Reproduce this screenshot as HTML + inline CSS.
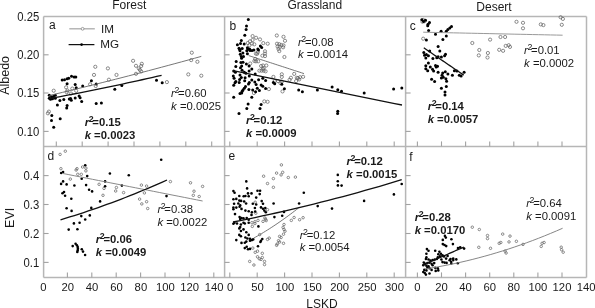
<!DOCTYPE html>
<html><head><meta charset="utf-8"><style>
html,body{margin:0;padding:0;background:#fff;}
svg{display:block;will-change:transform;filter:blur(0.3px);}
text{font-family:"Liberation Sans",sans-serif;fill:#1a1a1a;}
</style></head><body>
<svg width="595" height="308" viewBox="0 0 595 308">
<rect width="595" height="308" fill="#fff"/>
<line x1="43.6" y1="16.4" x2="586.5" y2="16.4" stroke="#b6b6b6" stroke-width="1.5"/><line x1="43.6" y1="277.4" x2="586.5" y2="277.4" stroke="#b6b6b6" stroke-width="1.5"/><line x1="43.6" y1="146.4" x2="586.5" y2="146.4" stroke="#b6b6b6" stroke-width="1.5"/><line x1="43.6" y1="16.4" x2="43.6" y2="277.4" stroke="#b6b6b6" stroke-width="1.5"/><line x1="224.6" y1="16.4" x2="224.6" y2="277.4" stroke="#b6b6b6" stroke-width="1.5"/><line x1="405.6" y1="16.4" x2="405.6" y2="277.4" stroke="#b6b6b6" stroke-width="1.5"/><line x1="586.5" y1="16.4" x2="586.5" y2="277.4" stroke="#b6b6b6" stroke-width="1.5"/><line x1="43.6" y1="54.8" x2="48.6" y2="54.8" stroke="#a2a2a2" stroke-width="1.1"/><line x1="43.6" y1="93.0" x2="48.6" y2="93.0" stroke="#a2a2a2" stroke-width="1.1"/><line x1="43.6" y1="131.4" x2="48.6" y2="131.4" stroke="#a2a2a2" stroke-width="1.1"/><line x1="43.6" y1="175.6" x2="48.6" y2="175.6" stroke="#a2a2a2" stroke-width="1.1"/><line x1="43.6" y1="204.5" x2="48.6" y2="204.5" stroke="#a2a2a2" stroke-width="1.1"/><line x1="43.6" y1="233.5" x2="48.6" y2="233.5" stroke="#a2a2a2" stroke-width="1.1"/><line x1="43.6" y1="262.4" x2="48.6" y2="262.4" stroke="#a2a2a2" stroke-width="1.1"/><line x1="224.6" y1="54.8" x2="229.6" y2="54.8" stroke="#a2a2a2" stroke-width="1.1"/><line x1="224.6" y1="93.0" x2="229.6" y2="93.0" stroke="#a2a2a2" stroke-width="1.1"/><line x1="224.6" y1="131.4" x2="229.6" y2="131.4" stroke="#a2a2a2" stroke-width="1.1"/><line x1="224.6" y1="175.6" x2="229.6" y2="175.6" stroke="#a2a2a2" stroke-width="1.1"/><line x1="224.6" y1="204.5" x2="229.6" y2="204.5" stroke="#a2a2a2" stroke-width="1.1"/><line x1="224.6" y1="233.5" x2="229.6" y2="233.5" stroke="#a2a2a2" stroke-width="1.1"/><line x1="224.6" y1="262.4" x2="229.6" y2="262.4" stroke="#a2a2a2" stroke-width="1.1"/><line x1="405.6" y1="54.8" x2="410.6" y2="54.8" stroke="#a2a2a2" stroke-width="1.1"/><line x1="405.6" y1="93.0" x2="410.6" y2="93.0" stroke="#a2a2a2" stroke-width="1.1"/><line x1="405.6" y1="131.4" x2="410.6" y2="131.4" stroke="#a2a2a2" stroke-width="1.1"/><line x1="405.6" y1="175.6" x2="410.6" y2="175.6" stroke="#a2a2a2" stroke-width="1.1"/><line x1="405.6" y1="204.5" x2="410.6" y2="204.5" stroke="#a2a2a2" stroke-width="1.1"/><line x1="405.6" y1="233.5" x2="410.6" y2="233.5" stroke="#a2a2a2" stroke-width="1.1"/><line x1="405.6" y1="262.4" x2="410.6" y2="262.4" stroke="#a2a2a2" stroke-width="1.1"/><line x1="56.3" y1="146.4" x2="56.3" y2="141.4" stroke="#a2a2a2" stroke-width="1.1"/><line x1="229.8" y1="146.4" x2="229.8" y2="141.4" stroke="#a2a2a2" stroke-width="1.1"/><line x1="417.4" y1="146.4" x2="417.4" y2="141.4" stroke="#a2a2a2" stroke-width="1.1"/><line x1="82.19999999999999" y1="146.4" x2="82.19999999999999" y2="141.4" stroke="#a2a2a2" stroke-width="1.1"/><line x1="257.2" y1="146.4" x2="257.2" y2="141.4" stroke="#a2a2a2" stroke-width="1.1"/><line x1="441.5" y1="146.4" x2="441.5" y2="141.4" stroke="#a2a2a2" stroke-width="1.1"/><line x1="108.1" y1="146.4" x2="108.1" y2="141.4" stroke="#a2a2a2" stroke-width="1.1"/><line x1="284.6" y1="146.4" x2="284.6" y2="141.4" stroke="#a2a2a2" stroke-width="1.1"/><line x1="465.59999999999997" y1="146.4" x2="465.59999999999997" y2="141.4" stroke="#a2a2a2" stroke-width="1.1"/><line x1="134.0" y1="146.4" x2="134.0" y2="141.4" stroke="#a2a2a2" stroke-width="1.1"/><line x1="312.0" y1="146.4" x2="312.0" y2="141.4" stroke="#a2a2a2" stroke-width="1.1"/><line x1="489.7" y1="146.4" x2="489.7" y2="141.4" stroke="#a2a2a2" stroke-width="1.1"/><line x1="159.89999999999998" y1="146.4" x2="159.89999999999998" y2="141.4" stroke="#a2a2a2" stroke-width="1.1"/><line x1="339.4" y1="146.4" x2="339.4" y2="141.4" stroke="#a2a2a2" stroke-width="1.1"/><line x1="513.8" y1="146.4" x2="513.8" y2="141.4" stroke="#a2a2a2" stroke-width="1.1"/><line x1="185.8" y1="146.4" x2="185.8" y2="141.4" stroke="#a2a2a2" stroke-width="1.1"/><line x1="366.8" y1="146.4" x2="366.8" y2="141.4" stroke="#a2a2a2" stroke-width="1.1"/><line x1="537.9" y1="146.4" x2="537.9" y2="141.4" stroke="#a2a2a2" stroke-width="1.1"/><line x1="211.7" y1="146.4" x2="211.7" y2="141.4" stroke="#a2a2a2" stroke-width="1.1"/><line x1="394.2" y1="146.4" x2="394.2" y2="141.4" stroke="#a2a2a2" stroke-width="1.1"/><line x1="562.0" y1="146.4" x2="562.0" y2="141.4" stroke="#a2a2a2" stroke-width="1.1"/><line x1="67.4" y1="277.4" x2="67.4" y2="272.4" stroke="#a2a2a2" stroke-width="1.1"/><line x1="91.8" y1="277.4" x2="91.8" y2="272.4" stroke="#a2a2a2" stroke-width="1.1"/><line x1="116.19999999999999" y1="277.4" x2="116.19999999999999" y2="272.4" stroke="#a2a2a2" stroke-width="1.1"/><line x1="140.6" y1="277.4" x2="140.6" y2="272.4" stroke="#a2a2a2" stroke-width="1.1"/><line x1="165.0" y1="277.4" x2="165.0" y2="272.4" stroke="#a2a2a2" stroke-width="1.1"/><line x1="189.39999999999998" y1="277.4" x2="189.39999999999998" y2="272.4" stroke="#a2a2a2" stroke-width="1.1"/><line x1="213.79999999999998" y1="277.4" x2="213.79999999999998" y2="272.4" stroke="#a2a2a2" stroke-width="1.1"/><line x1="229.8" y1="277.4" x2="229.8" y2="272.4" stroke="#a2a2a2" stroke-width="1.1"/><line x1="417.4" y1="277.4" x2="417.4" y2="272.4" stroke="#a2a2a2" stroke-width="1.1"/><line x1="257.2" y1="277.4" x2="257.2" y2="272.4" stroke="#a2a2a2" stroke-width="1.1"/><line x1="441.5" y1="277.4" x2="441.5" y2="272.4" stroke="#a2a2a2" stroke-width="1.1"/><line x1="284.6" y1="277.4" x2="284.6" y2="272.4" stroke="#a2a2a2" stroke-width="1.1"/><line x1="465.59999999999997" y1="277.4" x2="465.59999999999997" y2="272.4" stroke="#a2a2a2" stroke-width="1.1"/><line x1="312.0" y1="277.4" x2="312.0" y2="272.4" stroke="#a2a2a2" stroke-width="1.1"/><line x1="489.7" y1="277.4" x2="489.7" y2="272.4" stroke="#a2a2a2" stroke-width="1.1"/><line x1="339.4" y1="277.4" x2="339.4" y2="272.4" stroke="#a2a2a2" stroke-width="1.1"/><line x1="513.8" y1="277.4" x2="513.8" y2="272.4" stroke="#a2a2a2" stroke-width="1.1"/><line x1="366.8" y1="277.4" x2="366.8" y2="272.4" stroke="#a2a2a2" stroke-width="1.1"/><line x1="537.9" y1="277.4" x2="537.9" y2="272.4" stroke="#a2a2a2" stroke-width="1.1"/><line x1="394.2" y1="277.4" x2="394.2" y2="272.4" stroke="#a2a2a2" stroke-width="1.1"/><line x1="562.0" y1="277.4" x2="562.0" y2="272.4" stroke="#a2a2a2" stroke-width="1.1"/><line x1="69.3" y1="28.8" x2="94.8" y2="28.8" stroke="#aaaaaa" stroke-width="1.3"/><line x1="68.6" y1="44.6" x2="94.4" y2="44.6" stroke="#111" stroke-width="1.25"/>
<circle cx="95.3" cy="66.8" r="1.6" fill="none" stroke="#666" stroke-width="0.75"/><circle cx="107.9" cy="68.4" r="1.6" fill="none" stroke="#666" stroke-width="0.75"/><circle cx="94.0" cy="74.9" r="1.6" fill="none" stroke="#666" stroke-width="0.75"/><circle cx="116.5" cy="74.9" r="1.6" fill="none" stroke="#666" stroke-width="0.75"/><circle cx="108.9" cy="79.7" r="1.6" fill="none" stroke="#666" stroke-width="0.75"/><circle cx="90.1" cy="84.3" r="1.6" fill="none" stroke="#666" stroke-width="0.75"/><circle cx="95.7" cy="86.0" r="1.6" fill="none" stroke="#666" stroke-width="0.75"/><circle cx="53.7" cy="90.7" r="1.6" fill="none" stroke="#666" stroke-width="0.75"/><circle cx="66.1" cy="87.3" r="1.6" fill="none" stroke="#666" stroke-width="0.75"/><circle cx="72.3" cy="88.6" r="1.6" fill="none" stroke="#666" stroke-width="0.75"/><circle cx="67.4" cy="90.5" r="1.6" fill="none" stroke="#666" stroke-width="0.75"/><circle cx="76.2" cy="90.8" r="1.6" fill="none" stroke="#666" stroke-width="0.75"/><circle cx="66.7" cy="92.2" r="1.6" fill="none" stroke="#666" stroke-width="0.75"/><circle cx="71.0" cy="93.5" r="1.6" fill="none" stroke="#666" stroke-width="0.75"/><circle cx="48.9" cy="111.6" r="1.6" fill="none" stroke="#666" stroke-width="0.75"/><circle cx="47.9" cy="113.3" r="1.6" fill="none" stroke="#666" stroke-width="0.75"/><circle cx="133.1" cy="60.8" r="1.6" fill="none" stroke="#666" stroke-width="0.75"/><circle cx="136" cy="65.8" r="1.6" fill="none" stroke="#666" stroke-width="0.75"/><circle cx="141.8" cy="63.8" r="1.6" fill="none" stroke="#666" stroke-width="0.75"/><circle cx="141.2" cy="66" r="1.6" fill="none" stroke="#666" stroke-width="0.75"/><circle cx="138.8" cy="68.4" r="1.6" fill="none" stroke="#666" stroke-width="0.75"/><circle cx="139.9" cy="69.9" r="1.6" fill="none" stroke="#666" stroke-width="0.75"/><circle cx="141.2" cy="71.4" r="1.6" fill="none" stroke="#666" stroke-width="0.75"/><circle cx="136" cy="73.8" r="1.6" fill="none" stroke="#666" stroke-width="0.75"/><circle cx="166.9" cy="82.1" r="1.6" fill="none" stroke="#666" stroke-width="0.75"/><circle cx="191.8" cy="52.7" r="1.6" fill="none" stroke="#666" stroke-width="0.75"/><circle cx="191.2" cy="60.1" r="1.6" fill="none" stroke="#666" stroke-width="0.75"/><circle cx="197.4" cy="61.8" r="1.6" fill="none" stroke="#666" stroke-width="0.75"/><circle cx="188.3" cy="74.4" r="1.6" fill="none" stroke="#666" stroke-width="0.75"/><circle cx="201.3" cy="75.7" r="1.6" fill="none" stroke="#666" stroke-width="0.75"/><circle cx="252.6" cy="36.1" r="1.6" fill="none" stroke="#666" stroke-width="0.75"/><circle cx="256.1" cy="37.8" r="1.6" fill="none" stroke="#666" stroke-width="0.75"/><circle cx="260" cy="39.4" r="1.6" fill="none" stroke="#666" stroke-width="0.75"/><circle cx="250" cy="41.3" r="1.6" fill="none" stroke="#666" stroke-width="0.75"/><circle cx="252.6" cy="40" r="1.6" fill="none" stroke="#666" stroke-width="0.75"/><circle cx="247.8" cy="43" r="1.6" fill="none" stroke="#666" stroke-width="0.75"/><circle cx="252" cy="43.5" r="1.6" fill="none" stroke="#666" stroke-width="0.75"/><circle cx="254.3" cy="44.3" r="1.6" fill="none" stroke="#666" stroke-width="0.75"/><circle cx="249.4" cy="45.2" r="1.6" fill="none" stroke="#666" stroke-width="0.75"/><circle cx="257.8" cy="52.1" r="1.6" fill="none" stroke="#666" stroke-width="0.75"/><circle cx="265" cy="51.3" r="1.6" fill="none" stroke="#666" stroke-width="0.75"/><circle cx="255.9" cy="53.7" r="1.6" fill="none" stroke="#666" stroke-width="0.75"/><circle cx="276.8" cy="35.5" r="1.6" fill="none" stroke="#666" stroke-width="0.75"/><circle cx="283.5" cy="36.8" r="1.6" fill="none" stroke="#666" stroke-width="0.75"/><circle cx="285" cy="40.8" r="1.6" fill="none" stroke="#666" stroke-width="0.75"/><circle cx="263.3" cy="43.1" r="1.6" fill="none" stroke="#666" stroke-width="0.75"/><circle cx="267.7" cy="43.7" r="1.6" fill="none" stroke="#666" stroke-width="0.75"/><circle cx="277" cy="43.7" r="1.6" fill="none" stroke="#666" stroke-width="0.75"/><circle cx="279.3" cy="44.2" r="1.6" fill="none" stroke="#666" stroke-width="0.75"/><circle cx="281.4" cy="45" r="1.6" fill="none" stroke="#666" stroke-width="0.75"/><circle cx="283.5" cy="45.4" r="1.6" fill="none" stroke="#666" stroke-width="0.75"/><circle cx="277.6" cy="46.5" r="1.6" fill="none" stroke="#666" stroke-width="0.75"/><circle cx="279.7" cy="46.9" r="1.6" fill="none" stroke="#666" stroke-width="0.75"/><circle cx="283.1" cy="47.3" r="1.6" fill="none" stroke="#666" stroke-width="0.75"/><circle cx="278.5" cy="49" r="1.6" fill="none" stroke="#666" stroke-width="0.75"/><circle cx="279.3" cy="51.1" r="1.6" fill="none" stroke="#666" stroke-width="0.75"/><circle cx="265" cy="53.6" r="1.6" fill="none" stroke="#666" stroke-width="0.75"/><circle cx="257.2" cy="53.8" r="1.6" fill="none" stroke="#666" stroke-width="0.75"/><circle cx="262.4" cy="55.7" r="1.6" fill="none" stroke="#666" stroke-width="0.75"/><circle cx="265" cy="56.1" r="1.6" fill="none" stroke="#666" stroke-width="0.75"/><circle cx="284.4" cy="57" r="1.6" fill="none" stroke="#666" stroke-width="0.75"/><circle cx="255.2" cy="59" r="1.6" fill="none" stroke="#666" stroke-width="0.75"/><circle cx="255.9" cy="61.3" r="1.6" fill="none" stroke="#666" stroke-width="0.75"/><circle cx="258.2" cy="61.3" r="1.6" fill="none" stroke="#666" stroke-width="0.75"/><circle cx="250.2" cy="63.5" r="1.6" fill="none" stroke="#666" stroke-width="0.75"/><circle cx="254.4" cy="61" r="1.6" fill="none" stroke="#666" stroke-width="0.75"/><circle cx="261.1" cy="66" r="1.6" fill="none" stroke="#666" stroke-width="0.75"/><circle cx="259.4" cy="70.7" r="1.6" fill="none" stroke="#666" stroke-width="0.75"/><circle cx="261.6" cy="70.7" r="1.6" fill="none" stroke="#666" stroke-width="0.75"/><circle cx="262.8" cy="69" r="1.6" fill="none" stroke="#666" stroke-width="0.75"/><circle cx="263" cy="65.5" r="1.6" fill="none" stroke="#666" stroke-width="0.75"/><circle cx="266.3" cy="65.5" r="1.6" fill="none" stroke="#666" stroke-width="0.75"/><circle cx="263.7" cy="68.1" r="1.6" fill="none" stroke="#666" stroke-width="0.75"/><circle cx="263.7" cy="70.7" r="1.6" fill="none" stroke="#666" stroke-width="0.75"/><circle cx="265.6" cy="71.3" r="1.6" fill="none" stroke="#666" stroke-width="0.75"/><circle cx="273.4" cy="76.9" r="1.6" fill="none" stroke="#666" stroke-width="0.75"/><circle cx="281.8" cy="74.3" r="1.6" fill="none" stroke="#666" stroke-width="0.75"/><circle cx="281.8" cy="76.9" r="1.6" fill="none" stroke="#666" stroke-width="0.75"/><circle cx="290.9" cy="77.8" r="1.6" fill="none" stroke="#666" stroke-width="0.75"/><circle cx="294.2" cy="73.9" r="1.6" fill="none" stroke="#666" stroke-width="0.75"/><circle cx="296.8" cy="77.8" r="1.6" fill="none" stroke="#666" stroke-width="0.75"/><circle cx="300" cy="77.2" r="1.6" fill="none" stroke="#666" stroke-width="0.75"/><circle cx="296.1" cy="81.1" r="1.6" fill="none" stroke="#666" stroke-width="0.75"/><circle cx="289.6" cy="79.8" r="1.6" fill="none" stroke="#666" stroke-width="0.75"/><circle cx="274.7" cy="81.1" r="1.6" fill="none" stroke="#666" stroke-width="0.75"/><circle cx="278" cy="81.1" r="1.6" fill="none" stroke="#666" stroke-width="0.75"/><circle cx="281.8" cy="81.7" r="1.6" fill="none" stroke="#666" stroke-width="0.75"/><circle cx="253.9" cy="93" r="1.6" fill="none" stroke="#666" stroke-width="0.75"/><circle cx="268.9" cy="89.1" r="1.6" fill="none" stroke="#666" stroke-width="0.75"/><circle cx="282.5" cy="91.4" r="1.6" fill="none" stroke="#666" stroke-width="0.75"/><circle cx="280.5" cy="83.2" r="1.6" fill="none" stroke="#666" stroke-width="0.75"/><circle cx="264.3" cy="101.4" r="1.6" fill="none" stroke="#666" stroke-width="0.75"/><circle cx="267.6" cy="101.8" r="1.6" fill="none" stroke="#666" stroke-width="0.75"/><circle cx="298" cy="78.1" r="1.6" fill="none" stroke="#666" stroke-width="0.75"/><circle cx="303.1" cy="76.8" r="1.6" fill="none" stroke="#666" stroke-width="0.75"/><circle cx="299.2" cy="79.4" r="1.6" fill="none" stroke="#666" stroke-width="0.75"/><circle cx="423.2" cy="19.9" r="1.6" fill="none" stroke="#666" stroke-width="0.75"/><circle cx="422.5" cy="21.8" r="1.6" fill="none" stroke="#666" stroke-width="0.75"/><circle cx="424.5" cy="21.2" r="1.6" fill="none" stroke="#666" stroke-width="0.75"/><circle cx="423.2" cy="38.7" r="1.6" fill="none" stroke="#666" stroke-width="0.75"/><circle cx="472.3" cy="43" r="1.6" fill="none" stroke="#666" stroke-width="0.75"/><circle cx="479.3" cy="50" r="1.6" fill="none" stroke="#666" stroke-width="0.75"/><circle cx="478.8" cy="55.4" r="1.6" fill="none" stroke="#666" stroke-width="0.75"/><circle cx="516.5" cy="21.8" r="1.6" fill="none" stroke="#666" stroke-width="0.75"/><circle cx="523" cy="22.8" r="1.6" fill="none" stroke="#666" stroke-width="0.75"/><circle cx="523" cy="28.3" r="1.6" fill="none" stroke="#666" stroke-width="0.75"/><circle cx="540.8" cy="24.4" r="1.6" fill="none" stroke="#666" stroke-width="0.75"/><circle cx="543.4" cy="25.1" r="1.6" fill="none" stroke="#666" stroke-width="0.75"/><circle cx="490.1" cy="39.6" r="1.6" fill="none" stroke="#666" stroke-width="0.75"/><circle cx="500.5" cy="37" r="1.6" fill="none" stroke="#666" stroke-width="0.75"/><circle cx="505.1" cy="37" r="1.6" fill="none" stroke="#666" stroke-width="0.75"/><circle cx="505.7" cy="45.9" r="1.6" fill="none" stroke="#666" stroke-width="0.75"/><circle cx="508.7" cy="45.2" r="1.6" fill="none" stroke="#666" stroke-width="0.75"/><circle cx="510" cy="46.9" r="1.6" fill="none" stroke="#666" stroke-width="0.75"/><circle cx="499.2" cy="49.8" r="1.6" fill="none" stroke="#666" stroke-width="0.75"/><circle cx="503.1" cy="50.8" r="1.6" fill="none" stroke="#666" stroke-width="0.75"/><circle cx="487.9" cy="53" r="1.6" fill="none" stroke="#666" stroke-width="0.75"/><circle cx="487.5" cy="57.5" r="1.6" fill="none" stroke="#666" stroke-width="0.75"/><circle cx="560.6" cy="17.2" r="1.6" fill="none" stroke="#666" stroke-width="0.75"/><circle cx="562.9" cy="18.9" r="1.6" fill="none" stroke="#666" stroke-width="0.75"/><circle cx="561.8" cy="24.8" r="1.6" fill="none" stroke="#666" stroke-width="0.75"/><circle cx="60.1" cy="154.4" r="1.25" fill="none" stroke="#666" stroke-width="0.75"/><circle cx="65.3" cy="151.2" r="1.25" fill="none" stroke="#666" stroke-width="0.75"/><circle cx="60.9" cy="168.7" r="1.25" fill="none" stroke="#666" stroke-width="0.75"/><circle cx="77" cy="168.7" r="1.25" fill="none" stroke="#666" stroke-width="0.75"/><circle cx="76.1" cy="170" r="1.25" fill="none" stroke="#666" stroke-width="0.75"/><circle cx="82.6" cy="167" r="1.25" fill="none" stroke="#666" stroke-width="0.75"/><circle cx="85.9" cy="168.1" r="1.25" fill="none" stroke="#666" stroke-width="0.75"/><circle cx="85.9" cy="170.9" r="1.25" fill="none" stroke="#666" stroke-width="0.75"/><circle cx="77.8" cy="174.3" r="1.25" fill="none" stroke="#666" stroke-width="0.75"/><circle cx="81.3" cy="174.3" r="1.25" fill="none" stroke="#666" stroke-width="0.75"/><circle cx="70.3" cy="179.1" r="1.25" fill="none" stroke="#666" stroke-width="0.75"/><circle cx="99.1" cy="184.3" r="1.25" fill="none" stroke="#666" stroke-width="0.75"/><circle cx="104" cy="188.4" r="1.25" fill="none" stroke="#666" stroke-width="0.75"/><circle cx="116.4" cy="187.5" r="1.25" fill="none" stroke="#666" stroke-width="0.75"/><circle cx="115.7" cy="191" r="1.25" fill="none" stroke="#666" stroke-width="0.75"/><circle cx="103" cy="195.3" r="1.25" fill="none" stroke="#666" stroke-width="0.75"/><circle cx="123.6" cy="192.6" r="1.25" fill="none" stroke="#666" stroke-width="0.75"/><circle cx="141.4" cy="185.1" r="1.25" fill="none" stroke="#666" stroke-width="0.75"/><circle cx="146.6" cy="186.1" r="1.25" fill="none" stroke="#666" stroke-width="0.75"/><circle cx="144.4" cy="192.9" r="1.25" fill="none" stroke="#666" stroke-width="0.75"/><circle cx="139.6" cy="199.1" r="1.25" fill="none" stroke="#666" stroke-width="0.75"/><circle cx="146.6" cy="201.7" r="1.25" fill="none" stroke="#666" stroke-width="0.75"/><circle cx="141.8" cy="203.9" r="1.25" fill="none" stroke="#666" stroke-width="0.75"/><circle cx="147.7" cy="208.5" r="1.25" fill="none" stroke="#666" stroke-width="0.75"/><circle cx="170.4" cy="181.6" r="1.25" fill="none" stroke="#666" stroke-width="0.75"/><circle cx="190.5" cy="182.8" r="1.25" fill="none" stroke="#666" stroke-width="0.75"/><circle cx="202.6" cy="186.4" r="1.25" fill="none" stroke="#666" stroke-width="0.75"/><circle cx="194" cy="191.2" r="1.25" fill="none" stroke="#666" stroke-width="0.75"/><circle cx="193.3" cy="195.3" r="1.25" fill="none" stroke="#666" stroke-width="0.75"/><circle cx="199.2" cy="196.5" r="1.25" fill="none" stroke="#666" stroke-width="0.75"/><circle cx="281.4" cy="164.9" r="1.25" fill="none" stroke="#666" stroke-width="0.75"/><circle cx="276.6" cy="173.1" r="1.25" fill="none" stroke="#666" stroke-width="0.75"/><circle cx="282.7" cy="172.3" r="1.25" fill="none" stroke="#666" stroke-width="0.75"/><circle cx="281.1" cy="174.9" r="1.25" fill="none" stroke="#666" stroke-width="0.75"/><circle cx="263.6" cy="176.2" r="1.25" fill="none" stroke="#666" stroke-width="0.75"/><circle cx="273.4" cy="178.6" r="1.25" fill="none" stroke="#666" stroke-width="0.75"/><circle cx="288.3" cy="177.5" r="1.25" fill="none" stroke="#666" stroke-width="0.75"/><circle cx="295.4" cy="177.1" r="1.25" fill="none" stroke="#666" stroke-width="0.75"/><circle cx="267.5" cy="183.5" r="1.25" fill="none" stroke="#666" stroke-width="0.75"/><circle cx="273.4" cy="187.3" r="1.25" fill="none" stroke="#666" stroke-width="0.75"/><circle cx="255.2" cy="202.2" r="1.25" fill="none" stroke="#666" stroke-width="0.75"/><circle cx="267.5" cy="209.7" r="1.25" fill="none" stroke="#666" stroke-width="0.75"/><circle cx="255.8" cy="213.2" r="1.25" fill="none" stroke="#666" stroke-width="0.75"/><circle cx="264.9" cy="218" r="1.25" fill="none" stroke="#666" stroke-width="0.75"/><circle cx="263" cy="221.4" r="1.25" fill="none" stroke="#666" stroke-width="0.75"/><circle cx="266.2" cy="220.6" r="1.25" fill="none" stroke="#666" stroke-width="0.75"/><circle cx="258" cy="220.4" r="1.25" fill="none" stroke="#666" stroke-width="0.75"/><circle cx="254.9" cy="221.7" r="1.25" fill="none" stroke="#666" stroke-width="0.75"/><circle cx="251.9" cy="222.7" r="1.25" fill="none" stroke="#666" stroke-width="0.75"/><circle cx="291.3" cy="220.4" r="1.25" fill="none" stroke="#666" stroke-width="0.75"/><circle cx="294.1" cy="217.5" r="1.25" fill="none" stroke="#666" stroke-width="0.75"/><circle cx="299.6" cy="219.7" r="1.25" fill="none" stroke="#666" stroke-width="0.75"/><circle cx="254.9" cy="223.5" r="1.25" fill="none" stroke="#666" stroke-width="0.75"/><circle cx="252.3" cy="226.4" r="1.25" fill="none" stroke="#666" stroke-width="0.75"/><circle cx="265.6" cy="219.3" r="1.25" fill="none" stroke="#666" stroke-width="0.75"/><circle cx="284" cy="224.5" r="1.25" fill="none" stroke="#666" stroke-width="0.75"/><circle cx="283.1" cy="227.4" r="1.25" fill="none" stroke="#666" stroke-width="0.75"/><circle cx="284" cy="229.4" r="1.25" fill="none" stroke="#666" stroke-width="0.75"/><circle cx="285" cy="231.2" r="1.25" fill="none" stroke="#666" stroke-width="0.75"/><circle cx="283.5" cy="234.2" r="1.25" fill="none" stroke="#666" stroke-width="0.75"/><circle cx="259.7" cy="234.6" r="1.25" fill="none" stroke="#666" stroke-width="0.75"/><circle cx="269.2" cy="238.1" r="1.25" fill="none" stroke="#666" stroke-width="0.75"/><circle cx="267.5" cy="239.4" r="1.25" fill="none" stroke="#666" stroke-width="0.75"/><circle cx="279.6" cy="236.4" r="1.25" fill="none" stroke="#666" stroke-width="0.75"/><circle cx="281.1" cy="237.5" r="1.25" fill="none" stroke="#666" stroke-width="0.75"/><circle cx="278.5" cy="240.7" r="1.25" fill="none" stroke="#666" stroke-width="0.75"/><circle cx="279.6" cy="242" r="1.25" fill="none" stroke="#666" stroke-width="0.75"/><circle cx="277.2" cy="244" r="1.25" fill="none" stroke="#666" stroke-width="0.75"/><circle cx="276.6" cy="245.3" r="1.25" fill="none" stroke="#666" stroke-width="0.75"/><circle cx="283.5" cy="243.3" r="1.25" fill="none" stroke="#666" stroke-width="0.75"/><circle cx="252.8" cy="248.1" r="1.25" fill="none" stroke="#666" stroke-width="0.75"/><circle cx="255.2" cy="252.3" r="1.25" fill="none" stroke="#666" stroke-width="0.75"/><circle cx="257.5" cy="251.2" r="1.25" fill="none" stroke="#666" stroke-width="0.75"/><circle cx="262.3" cy="253.3" r="1.25" fill="none" stroke="#666" stroke-width="0.75"/><circle cx="257.5" cy="256.8" r="1.25" fill="none" stroke="#666" stroke-width="0.75"/><circle cx="259.3" cy="258.8" r="1.25" fill="none" stroke="#666" stroke-width="0.75"/><circle cx="261" cy="259.4" r="1.25" fill="none" stroke="#666" stroke-width="0.75"/><circle cx="262.3" cy="257.5" r="1.25" fill="none" stroke="#666" stroke-width="0.75"/><circle cx="264.5" cy="261.4" r="1.25" fill="none" stroke="#666" stroke-width="0.75"/><circle cx="264.5" cy="264.6" r="1.25" fill="none" stroke="#666" stroke-width="0.75"/><circle cx="249.7" cy="261.4" r="1.25" fill="none" stroke="#666" stroke-width="0.75"/><circle cx="253.9" cy="265" r="1.25" fill="none" stroke="#666" stroke-width="0.75"/><circle cx="303.1" cy="217.7" r="1.25" fill="none" stroke="#666" stroke-width="0.75"/><circle cx="472.3" cy="227.2" r="1.25" fill="none" stroke="#666" stroke-width="0.75"/><circle cx="479.3" cy="229.5" r="1.25" fill="none" stroke="#666" stroke-width="0.75"/><circle cx="478.8" cy="247.3" r="1.25" fill="none" stroke="#666" stroke-width="0.75"/><circle cx="487.5" cy="235.5" r="1.25" fill="none" stroke="#666" stroke-width="0.75"/><circle cx="487.5" cy="238.6" r="1.25" fill="none" stroke="#666" stroke-width="0.75"/><circle cx="502.7" cy="234.1" r="1.25" fill="none" stroke="#666" stroke-width="0.75"/><circle cx="510" cy="236.1" r="1.25" fill="none" stroke="#666" stroke-width="0.75"/><circle cx="499.2" cy="243.3" r="1.25" fill="none" stroke="#666" stroke-width="0.75"/><circle cx="500.8" cy="242.5" r="1.25" fill="none" stroke="#666" stroke-width="0.75"/><circle cx="509" cy="241.9" r="1.25" fill="none" stroke="#666" stroke-width="0.75"/><circle cx="516.4" cy="241.3" r="1.25" fill="none" stroke="#666" stroke-width="0.75"/><circle cx="523" cy="244.4" r="1.25" fill="none" stroke="#666" stroke-width="0.75"/><circle cx="490.5" cy="248.3" r="1.25" fill="none" stroke="#666" stroke-width="0.75"/><circle cx="505.1" cy="251.1" r="1.25" fill="none" stroke="#666" stroke-width="0.75"/><circle cx="506.1" cy="253" r="1.25" fill="none" stroke="#666" stroke-width="0.75"/><circle cx="542.1" cy="243.3" r="1.25" fill="none" stroke="#666" stroke-width="0.75"/><circle cx="544.1" cy="242.5" r="1.25" fill="none" stroke="#666" stroke-width="0.75"/><circle cx="541.2" cy="246.4" r="1.25" fill="none" stroke="#666" stroke-width="0.75"/><circle cx="561.2" cy="247.2" r="1.25" fill="none" stroke="#666" stroke-width="0.75"/><circle cx="561.6" cy="249.7" r="1.25" fill="none" stroke="#666" stroke-width="0.75"/><circle cx="563.2" cy="252.2" r="1.25" fill="none" stroke="#666" stroke-width="0.75"/><circle cx="62.2" cy="80.1" r="1.5" fill="#000"/><circle cx="64.5" cy="79.7" r="1.5" fill="#000"/><circle cx="67.1" cy="78.8" r="1.5" fill="#000"/><circle cx="68.7" cy="78.2" r="1.5" fill="#000"/><circle cx="71.5" cy="76.2" r="1.5" fill="#000"/><circle cx="74.1" cy="76.9" r="1.5" fill="#000"/><circle cx="75.8" cy="76.9" r="1.5" fill="#000"/><circle cx="67.1" cy="83.8" r="1.5" fill="#000"/><circle cx="75.2" cy="84.4" r="1.5" fill="#000"/><circle cx="76.2" cy="87.7" r="1.5" fill="#000"/><circle cx="82.7" cy="86.0" r="1.5" fill="#000"/><circle cx="91.4" cy="80.8" r="1.5" fill="#000"/><circle cx="96.2" cy="84.0" r="1.5" fill="#000"/><circle cx="114.8" cy="89.2" r="1.5" fill="#000"/><circle cx="121.8" cy="85.5" r="1.5" fill="#000"/><circle cx="156.5" cy="80.2" r="1.5" fill="#000"/><circle cx="162.2" cy="82.8" r="1.5" fill="#000"/><circle cx="49.3" cy="95.2" r="1.5" fill="#000"/><circle cx="49.3" cy="98.2" r="1.5" fill="#000"/><circle cx="51.5" cy="96.8" r="1.5" fill="#000"/><circle cx="53.5" cy="96.5" r="1.5" fill="#000"/><circle cx="55.3" cy="95.3" r="1.5" fill="#000"/><circle cx="55.3" cy="98.2" r="1.5" fill="#000"/><circle cx="50.5" cy="99.2" r="1.5" fill="#000"/><circle cx="52.5" cy="98.8" r="1.5" fill="#000"/><circle cx="59.9" cy="100.6" r="1.5" fill="#000"/><circle cx="63.8" cy="99.6" r="1.5" fill="#000"/><circle cx="69.3" cy="99" r="1.5" fill="#000"/><circle cx="70.6" cy="98.4" r="1.5" fill="#000"/><circle cx="71.3" cy="100.3" r="1.5" fill="#000"/><circle cx="75.2" cy="98.1" r="1.5" fill="#000"/><circle cx="79.1" cy="96.1" r="1.5" fill="#000"/><circle cx="80.1" cy="97.7" r="1.5" fill="#000"/><circle cx="81.7" cy="101.6" r="1.5" fill="#000"/><circle cx="57.4" cy="104.9" r="1.5" fill="#000"/><circle cx="67.1" cy="105.5" r="1.5" fill="#000"/><circle cx="66.7" cy="108.1" r="1.5" fill="#000"/><circle cx="96.2" cy="103.6" r="1.5" fill="#000"/><circle cx="101.4" cy="102.9" r="1.5" fill="#000"/><circle cx="51.8" cy="115.5" r="1.5" fill="#000"/><circle cx="51.5" cy="120.6" r="1.5" fill="#000"/><circle cx="60.2" cy="118.8" r="1.5" fill="#000"/><circle cx="53.7" cy="127.2" r="1.5" fill="#000"/><circle cx="248.3" cy="19.6" r="1.5" fill="#000"/><circle cx="246.5" cy="26.1" r="1.5" fill="#000"/><circle cx="246.1" cy="29.6" r="1.5" fill="#000"/><circle cx="244.8" cy="35.2" r="1.5" fill="#000"/><circle cx="241.3" cy="40.4" r="1.5" fill="#000"/><circle cx="237.4" cy="44.8" r="1.5" fill="#000"/><circle cx="240.5" cy="43.5" r="1.5" fill="#000"/><circle cx="244.2" cy="43.9" r="1.5" fill="#000"/><circle cx="239" cy="48.2" r="1.5" fill="#000"/><circle cx="242.2" cy="48.5" r="1.5" fill="#000"/><circle cx="240" cy="50.8" r="1.5" fill="#000"/><circle cx="247.4" cy="47.8" r="1.5" fill="#000"/><circle cx="249.6" cy="49.1" r="1.5" fill="#000"/><circle cx="252" cy="50.4" r="1.5" fill="#000"/><circle cx="253.9" cy="50" r="1.5" fill="#000"/><circle cx="246.8" cy="50.8" r="1.5" fill="#000"/><circle cx="247.4" cy="53.7" r="1.5" fill="#000"/><circle cx="258.5" cy="50" r="1.5" fill="#000"/><circle cx="260.4" cy="46.1" r="1.5" fill="#000"/><circle cx="261.7" cy="47.4" r="1.5" fill="#000"/><circle cx="240.3" cy="54.3" r="1.5" fill="#000"/><circle cx="239.6" cy="49.6" r="1.5" fill="#000"/><circle cx="248.1" cy="49.2" r="1.5" fill="#000"/><circle cx="250" cy="50.5" r="1.5" fill="#000"/><circle cx="257.8" cy="48.9" r="1.5" fill="#000"/><circle cx="242.9" cy="53.1" r="1.5" fill="#000"/><circle cx="241.3" cy="56.4" r="1.5" fill="#000"/><circle cx="243.5" cy="56.4" r="1.5" fill="#000"/><circle cx="241.6" cy="58.3" r="1.5" fill="#000"/><circle cx="236.2" cy="61.4" r="1.5" fill="#000"/><circle cx="240.9" cy="62.6" r="1.5" fill="#000"/><circle cx="243" cy="62.2" r="1.5" fill="#000"/><circle cx="235.8" cy="66.4" r="1.5" fill="#000"/><circle cx="241.7" cy="66" r="1.5" fill="#000"/><circle cx="240.5" cy="67.7" r="1.5" fill="#000"/><circle cx="246.4" cy="63.9" r="1.5" fill="#000"/><circle cx="249.1" cy="66" r="1.5" fill="#000"/><circle cx="251.8" cy="69" r="1.5" fill="#000"/><circle cx="249.1" cy="71.1" r="1.5" fill="#000"/><circle cx="233.7" cy="71.1" r="1.5" fill="#000"/><circle cx="235.4" cy="72.3" r="1.5" fill="#000"/><circle cx="242.1" cy="70.2" r="1.5" fill="#000"/><circle cx="244.3" cy="72.3" r="1.5" fill="#000"/><circle cx="245.9" cy="73.2" r="1.5" fill="#000"/><circle cx="240" cy="74.9" r="1.5" fill="#000"/><circle cx="233.3" cy="76.1" r="1.5" fill="#000"/><circle cx="234.1" cy="78.3" r="1.5" fill="#000"/><circle cx="241.3" cy="77.4" r="1.5" fill="#000"/><circle cx="239.6" cy="79.5" r="1.5" fill="#000"/><circle cx="245.1" cy="77.8" r="1.5" fill="#000"/><circle cx="249.3" cy="76.1" r="1.5" fill="#000"/><circle cx="255.2" cy="74" r="1.5" fill="#000"/><circle cx="244.7" cy="80.8" r="1.5" fill="#000"/><circle cx="251.8" cy="79.9" r="1.5" fill="#000"/><circle cx="258.6" cy="79.8" r="1.5" fill="#000"/><circle cx="235.8" cy="81.6" r="1.5" fill="#000"/><circle cx="239.2" cy="82.5" r="1.5" fill="#000"/><circle cx="249.3" cy="82.5" r="1.5" fill="#000"/><circle cx="254.8" cy="82" r="1.5" fill="#000"/><circle cx="262.8" cy="78.3" r="1.5" fill="#000"/><circle cx="265.6" cy="80.4" r="1.5" fill="#000"/><circle cx="261.1" cy="85" r="1.5" fill="#000"/><circle cx="274.7" cy="83.7" r="1.5" fill="#000"/><circle cx="281.8" cy="84.3" r="1.5" fill="#000"/><circle cx="233.7" cy="85.2" r="1.5" fill="#000"/><circle cx="235" cy="82.8" r="1.5" fill="#000"/><circle cx="245.5" cy="86.6" r="1.5" fill="#000"/><circle cx="244.3" cy="88.3" r="1.5" fill="#000"/><circle cx="243" cy="90" r="1.5" fill="#000"/><circle cx="242.1" cy="91.3" r="1.5" fill="#000"/><circle cx="240" cy="93.4" r="1.5" fill="#000"/><circle cx="241.7" cy="93" r="1.5" fill="#000"/><circle cx="248.5" cy="84.1" r="1.5" fill="#000"/><circle cx="248.9" cy="89.6" r="1.5" fill="#000"/><circle cx="252.7" cy="90" r="1.5" fill="#000"/><circle cx="256.1" cy="84.5" r="1.5" fill="#000"/><circle cx="257.3" cy="88.3" r="1.5" fill="#000"/><circle cx="255.6" cy="91.7" r="1.5" fill="#000"/><circle cx="259.4" cy="90.4" r="1.5" fill="#000"/><circle cx="262.8" cy="86.2" r="1.5" fill="#000"/><circle cx="233.7" cy="97.2" r="1.5" fill="#000"/><circle cx="251.8" cy="97.2" r="1.5" fill="#000"/><circle cx="248.1" cy="104.1" r="1.5" fill="#000"/><circle cx="261.1" cy="104.4" r="1.5" fill="#000"/><circle cx="246.8" cy="108.6" r="1.5" fill="#000"/><circle cx="260" cy="108.6" r="1.5" fill="#000"/><circle cx="239" cy="113.5" r="1.5" fill="#000"/><circle cx="265.6" cy="88.4" r="1.5" fill="#000"/><circle cx="273.4" cy="82.6" r="1.5" fill="#000"/><circle cx="284.4" cy="88.8" r="1.5" fill="#000"/><circle cx="298.7" cy="90.1" r="1.5" fill="#000"/><circle cx="302.4" cy="91.7" r="1.5" fill="#000"/><circle cx="317.4" cy="90" r="1.5" fill="#000"/><circle cx="332.1" cy="86.9" r="1.5" fill="#000"/><circle cx="337.8" cy="89.8" r="1.5" fill="#000"/><circle cx="341.5" cy="91.3" r="1.5" fill="#000"/><circle cx="364.2" cy="93" r="1.5" fill="#000"/><circle cx="393.6" cy="89.1" r="1.5" fill="#000"/><circle cx="401.8" cy="87.9" r="1.5" fill="#000"/><circle cx="337.8" cy="111.3" r="1.5" fill="#000"/><circle cx="337.6" cy="113.5" r="1.5" fill="#000"/><circle cx="421.8" cy="19.8" r="1.5" fill="#000"/><circle cx="423.5" cy="21.5" r="1.5" fill="#000"/><circle cx="425.5" cy="20.3" r="1.5" fill="#000"/><circle cx="429.5" cy="22.5" r="1.5" fill="#000"/><circle cx="428" cy="24.2" r="1.5" fill="#000"/><circle cx="427.7" cy="25.7" r="1.5" fill="#000"/><circle cx="428.6" cy="30.5" r="1.5" fill="#000"/><circle cx="435.5" cy="34.2" r="1.5" fill="#000"/><circle cx="441.1" cy="31.3" r="1.5" fill="#000"/><circle cx="446.3" cy="31.3" r="1.5" fill="#000"/><circle cx="447.9" cy="29.6" r="1.5" fill="#000"/><circle cx="449.8" cy="27.9" r="1.5" fill="#000"/><circle cx="451.5" cy="26.6" r="1.5" fill="#000"/><circle cx="446.3" cy="36.1" r="1.5" fill="#000"/><circle cx="442.9" cy="39.6" r="1.5" fill="#000"/><circle cx="426.4" cy="40" r="1.5" fill="#000"/><circle cx="438.1" cy="46.5" r="1.5" fill="#000"/><circle cx="439.8" cy="51.1" r="1.5" fill="#000"/><circle cx="429.7" cy="51.1" r="1.5" fill="#000"/><circle cx="445.5" cy="54.3" r="1.5" fill="#000"/><circle cx="423.8" cy="52.6" r="1.5" fill="#000"/><circle cx="424.5" cy="55.2" r="1.5" fill="#000"/><circle cx="426.4" cy="54.5" r="1.5" fill="#000"/><circle cx="428.4" cy="55.8" r="1.5" fill="#000"/><circle cx="425.8" cy="58.1" r="1.5" fill="#000"/><circle cx="432.9" cy="58.4" r="1.5" fill="#000"/><circle cx="436.8" cy="57.8" r="1.5" fill="#000"/><circle cx="438.1" cy="56.8" r="1.5" fill="#000"/><circle cx="441.4" cy="57.1" r="1.5" fill="#000"/><circle cx="444.6" cy="55.8" r="1.5" fill="#000"/><circle cx="428.4" cy="63" r="1.5" fill="#000"/><circle cx="425.8" cy="65.8" r="1.5" fill="#000"/><circle cx="430.3" cy="66.9" r="1.5" fill="#000"/><circle cx="435.5" cy="65.6" r="1.5" fill="#000"/><circle cx="437.5" cy="66.2" r="1.5" fill="#000"/><circle cx="436.2" cy="67.1" r="1.5" fill="#000"/><circle cx="425.8" cy="68.8" r="1.5" fill="#000"/><circle cx="427.7" cy="70.8" r="1.5" fill="#000"/><circle cx="432.5" cy="69.2" r="1.5" fill="#000"/><circle cx="433.6" cy="71" r="1.5" fill="#000"/><circle cx="438.1" cy="72.3" r="1.5" fill="#000"/><circle cx="442.7" cy="73.1" r="1.5" fill="#000"/><circle cx="445.3" cy="71.8" r="1.5" fill="#000"/><circle cx="442" cy="75.3" r="1.5" fill="#000"/><circle cx="443.3" cy="77.3" r="1.5" fill="#000"/><circle cx="447.9" cy="74" r="1.5" fill="#000"/><circle cx="452.4" cy="75.3" r="1.5" fill="#000"/><circle cx="454.4" cy="70.8" r="1.5" fill="#000"/><circle cx="456.9" cy="71" r="1.5" fill="#000"/><circle cx="459.3" cy="75.3" r="1.5" fill="#000"/><circle cx="461.1" cy="76" r="1.5" fill="#000"/><circle cx="464.1" cy="72.3" r="1.5" fill="#000"/><circle cx="441.4" cy="77.9" r="1.5" fill="#000"/><circle cx="445.9" cy="78.8" r="1.5" fill="#000"/><circle cx="431.6" cy="79.2" r="1.5" fill="#000"/><circle cx="434.6" cy="81.4" r="1.5" fill="#000"/><circle cx="446.6" cy="81.2" r="1.5" fill="#000"/><circle cx="441.4" cy="88.3" r="1.5" fill="#000"/><circle cx="446.3" cy="86.6" r="1.5" fill="#000"/><circle cx="445" cy="92" r="1.5" fill="#000"/><circle cx="445" cy="94.9" r="1.5" fill="#000"/><circle cx="61.2" cy="173" r="1.3" fill="#000"/><circle cx="63.1" cy="172" r="1.3" fill="#000"/><circle cx="85.2" cy="165.2" r="1.3" fill="#000"/><circle cx="87.2" cy="176.1" r="1.3" fill="#000"/><circle cx="81.7" cy="178.7" r="1.3" fill="#000"/><circle cx="109.9" cy="173.5" r="1.3" fill="#000"/><circle cx="105.1" cy="181.4" r="1.3" fill="#000"/><circle cx="63.1" cy="181.4" r="1.3" fill="#000"/><circle cx="61.1" cy="183.9" r="1.3" fill="#000"/><circle cx="66.6" cy="184.4" r="1.3" fill="#000"/><circle cx="74.4" cy="185.5" r="1.3" fill="#000"/><circle cx="86.1" cy="185.1" r="1.3" fill="#000"/><circle cx="105.1" cy="186.2" r="1.3" fill="#000"/><circle cx="89.1" cy="189.7" r="1.3" fill="#000"/><circle cx="92.1" cy="191.4" r="1.3" fill="#000"/><circle cx="64" cy="192" r="1.3" fill="#000"/><circle cx="62.5" cy="193.2" r="1.3" fill="#000"/><circle cx="65.1" cy="195.8" r="1.3" fill="#000"/><circle cx="71.3" cy="198.8" r="1.3" fill="#000"/><circle cx="100.1" cy="201.4" r="1.3" fill="#000"/><circle cx="66.6" cy="208.3" r="1.3" fill="#000"/><circle cx="71.6" cy="210.9" r="1.3" fill="#000"/><circle cx="91.3" cy="207.9" r="1.3" fill="#000"/><circle cx="81.3" cy="216.1" r="1.3" fill="#000"/><circle cx="89.8" cy="215.4" r="1.3" fill="#000"/><circle cx="85.2" cy="219.5" r="1.3" fill="#000"/><circle cx="73.9" cy="223.4" r="1.3" fill="#000"/><circle cx="79.6" cy="222.8" r="1.3" fill="#000"/><circle cx="68.7" cy="229.6" r="1.3" fill="#000"/><circle cx="77.4" cy="229.3" r="1.3" fill="#000"/><circle cx="72.7" cy="246.1" r="1.3" fill="#000"/><circle cx="75.6" cy="243.8" r="1.3" fill="#000"/><circle cx="76.9" cy="245.3" r="1.3" fill="#000"/><circle cx="77.7" cy="247" r="1.3" fill="#000"/><circle cx="77.9" cy="248.7" r="1.3" fill="#000"/><circle cx="77.3" cy="252" r="1.3" fill="#000"/><circle cx="77.7" cy="250.4" r="1.3" fill="#000"/><circle cx="81.8" cy="249.3" r="1.3" fill="#000"/><circle cx="83" cy="251.6" r="1.3" fill="#000"/><circle cx="85.1" cy="255" r="1.3" fill="#000"/><circle cx="161.2" cy="159.8" r="1.3" fill="#000"/><circle cx="128.8" cy="175.2" r="1.3" fill="#000"/><circle cx="121.9" cy="185.6" r="1.3" fill="#000"/><circle cx="166.5" cy="196.1" r="1.3" fill="#000"/><circle cx="246.3" cy="181.4" r="1.3" fill="#000"/><circle cx="247.1" cy="188.4" r="1.3" fill="#000"/><circle cx="233.4" cy="191.1" r="1.3" fill="#000"/><circle cx="234.6" cy="192.8" r="1.3" fill="#000"/><circle cx="257.5" cy="190.8" r="1.3" fill="#000"/><circle cx="260.1" cy="190.8" r="1.3" fill="#000"/><circle cx="248" cy="193.4" r="1.3" fill="#000"/><circle cx="251.5" cy="193.4" r="1.3" fill="#000"/><circle cx="259.7" cy="194.1" r="1.3" fill="#000"/><circle cx="239.3" cy="196" r="1.3" fill="#000"/><circle cx="243.7" cy="196.3" r="1.3" fill="#000"/><circle cx="245.4" cy="196" r="1.3" fill="#000"/><circle cx="248.7" cy="196.3" r="1.3" fill="#000"/><circle cx="256.2" cy="197.6" r="1.3" fill="#000"/><circle cx="233.4" cy="199.3" r="1.3" fill="#000"/><circle cx="236.3" cy="198.9" r="1.3" fill="#000"/><circle cx="239.3" cy="200.6" r="1.3" fill="#000"/><circle cx="241.1" cy="200.9" r="1.3" fill="#000"/><circle cx="244.1" cy="201.5" r="1.3" fill="#000"/><circle cx="246.1" cy="203.5" r="1.3" fill="#000"/><circle cx="234.1" cy="203.7" r="1.3" fill="#000"/><circle cx="238.3" cy="203.5" r="1.3" fill="#000"/><circle cx="240.2" cy="205.4" r="1.3" fill="#000"/><circle cx="252.8" cy="203.7" r="1.3" fill="#000"/><circle cx="256.2" cy="204.5" r="1.3" fill="#000"/><circle cx="261.7" cy="201.1" r="1.3" fill="#000"/><circle cx="263" cy="203.7" r="1.3" fill="#000"/><circle cx="273.6" cy="203.5" r="1.3" fill="#000"/><circle cx="299.1" cy="203.5" r="1.3" fill="#000"/><circle cx="233.4" cy="207.6" r="1.3" fill="#000"/><circle cx="236.3" cy="207.6" r="1.3" fill="#000"/><circle cx="239.6" cy="206.7" r="1.3" fill="#000"/><circle cx="241.5" cy="208.9" r="1.3" fill="#000"/><circle cx="254.9" cy="208" r="1.3" fill="#000"/><circle cx="261" cy="207.4" r="1.3" fill="#000"/><circle cx="263" cy="208.7" r="1.3" fill="#000"/><circle cx="265.3" cy="208" r="1.3" fill="#000"/><circle cx="233.4" cy="209.3" r="1.3" fill="#000"/><circle cx="245.4" cy="210.6" r="1.3" fill="#000"/><circle cx="248.7" cy="211.3" r="1.3" fill="#000"/><circle cx="251.9" cy="212.3" r="1.3" fill="#000"/><circle cx="255.2" cy="211.5" r="1.3" fill="#000"/><circle cx="264.3" cy="210.6" r="1.3" fill="#000"/><circle cx="265.8" cy="212.3" r="1.3" fill="#000"/><circle cx="235" cy="214.1" r="1.3" fill="#000"/><circle cx="251.5" cy="214.9" r="1.3" fill="#000"/><circle cx="239.6" cy="217.1" r="1.3" fill="#000"/><circle cx="241.5" cy="218" r="1.3" fill="#000"/><circle cx="243.5" cy="218.4" r="1.3" fill="#000"/><circle cx="246.7" cy="218" r="1.3" fill="#000"/><circle cx="240.2" cy="219.1" r="1.3" fill="#000"/><circle cx="248.7" cy="219.7" r="1.3" fill="#000"/><circle cx="274.4" cy="217.1" r="1.3" fill="#000"/><circle cx="282.2" cy="215.8" r="1.3" fill="#000"/><circle cx="284" cy="211.9" r="1.3" fill="#000"/><circle cx="234.4" cy="222.7" r="1.3" fill="#000"/><circle cx="243.5" cy="222.7" r="1.3" fill="#000"/><circle cx="248.7" cy="222.7" r="1.3" fill="#000"/><circle cx="233.4" cy="223.8" r="1.3" fill="#000"/><circle cx="237" cy="223.5" r="1.3" fill="#000"/><circle cx="244.8" cy="223.5" r="1.3" fill="#000"/><circle cx="240.9" cy="224.5" r="1.3" fill="#000"/><circle cx="240.2" cy="227.1" r="1.3" fill="#000"/><circle cx="239.3" cy="228.4" r="1.3" fill="#000"/><circle cx="243.5" cy="229.4" r="1.3" fill="#000"/><circle cx="258.4" cy="226.4" r="1.3" fill="#000"/><circle cx="240.9" cy="231" r="1.3" fill="#000"/><circle cx="246.3" cy="232.3" r="1.3" fill="#000"/><circle cx="248.7" cy="234.9" r="1.3" fill="#000"/><circle cx="239.3" cy="234.9" r="1.3" fill="#000"/><circle cx="240.9" cy="236.2" r="1.3" fill="#000"/><circle cx="245.4" cy="237.5" r="1.3" fill="#000"/><circle cx="247.4" cy="238.5" r="1.3" fill="#000"/><circle cx="250" cy="238.8" r="1.3" fill="#000"/><circle cx="251.9" cy="240.1" r="1.3" fill="#000"/><circle cx="253.2" cy="239.4" r="1.3" fill="#000"/><circle cx="236.3" cy="240.1" r="1.3" fill="#000"/><circle cx="250" cy="240.7" r="1.3" fill="#000"/><circle cx="262.3" cy="239" r="1.3" fill="#000"/><circle cx="261" cy="240.7" r="1.3" fill="#000"/><circle cx="260.4" cy="242" r="1.3" fill="#000"/><circle cx="241.5" cy="242.9" r="1.3" fill="#000"/><circle cx="244.8" cy="242.7" r="1.3" fill="#000"/><circle cx="246.3" cy="241.6" r="1.3" fill="#000"/><circle cx="258" cy="246.3" r="1.3" fill="#000"/><circle cx="246.7" cy="246.8" r="1.3" fill="#000"/><circle cx="244.8" cy="248.1" r="1.3" fill="#000"/><circle cx="248" cy="249.2" r="1.3" fill="#000"/><circle cx="250" cy="248.9" r="1.3" fill="#000"/><circle cx="337.8" cy="174.9" r="1.3" fill="#000"/><circle cx="337.8" cy="181.3" r="1.3" fill="#000"/><circle cx="337.9" cy="185.4" r="1.3" fill="#000"/><circle cx="341.6" cy="185.6" r="1.3" fill="#000"/><circle cx="303.8" cy="192.7" r="1.3" fill="#000"/><circle cx="317.7" cy="206.1" r="1.3" fill="#000"/><circle cx="332" cy="208.6" r="1.3" fill="#000"/><circle cx="364.1" cy="200.9" r="1.3" fill="#000"/><circle cx="401.7" cy="184" r="1.3" fill="#000"/><circle cx="393.9" cy="194.4" r="1.3" fill="#000"/><circle cx="444.9" cy="235.9" r="1.3" fill="#000"/><circle cx="445.8" cy="237.6" r="1.3" fill="#000"/><circle cx="442.8" cy="239.9" r="1.3" fill="#000"/><circle cx="451.4" cy="239.3" r="1.3" fill="#000"/><circle cx="442.8" cy="244.1" r="1.3" fill="#000"/><circle cx="444.5" cy="245" r="1.3" fill="#000"/><circle cx="446.2" cy="246.1" r="1.3" fill="#000"/><circle cx="452.9" cy="244.1" r="1.3" fill="#000"/><circle cx="458" cy="248.1" r="1.3" fill="#000"/><circle cx="460.2" cy="247.3" r="1.3" fill="#000"/><circle cx="464.1" cy="248.6" r="1.3" fill="#000"/><circle cx="447.6" cy="255.9" r="1.3" fill="#000"/><circle cx="450.5" cy="259" r="1.3" fill="#000"/><circle cx="453.3" cy="260.1" r="1.3" fill="#000"/><circle cx="456.3" cy="259.4" r="1.3" fill="#000"/><circle cx="446.6" cy="262.9" r="1.3" fill="#000"/><circle cx="449.6" cy="260.3" r="1.3" fill="#000"/><circle cx="451.3" cy="263.5" r="1.3" fill="#000"/><circle cx="457.8" cy="263.3" r="1.3" fill="#000"/><circle cx="446.1" cy="258.6" r="1.3" fill="#000"/><circle cx="453.2" cy="258.6" r="1.3" fill="#000"/><circle cx="451.2" cy="261.7" r="1.3" fill="#000"/><circle cx="426.9" cy="249.1" r="1.3" fill="#000"/><circle cx="428.5" cy="250.7" r="1.3" fill="#000"/><circle cx="426.4" cy="253.8" r="1.3" fill="#000"/><circle cx="435.2" cy="250.7" r="1.3" fill="#000"/><circle cx="439.4" cy="251.7" r="1.3" fill="#000"/><circle cx="438.3" cy="254.3" r="1.3" fill="#000"/><circle cx="440.9" cy="253.8" r="1.3" fill="#000"/><circle cx="442.5" cy="255.3" r="1.3" fill="#000"/><circle cx="444" cy="256.4" r="1.3" fill="#000"/><circle cx="439.9" cy="256.4" r="1.3" fill="#000"/><circle cx="437.8" cy="257.4" r="1.3" fill="#000"/><circle cx="426.4" cy="257.4" r="1.3" fill="#000"/><circle cx="425.9" cy="259" r="1.3" fill="#000"/><circle cx="428.5" cy="259.5" r="1.3" fill="#000"/><circle cx="430.5" cy="260.5" r="1.3" fill="#000"/><circle cx="432.6" cy="260" r="1.3" fill="#000"/><circle cx="434.7" cy="259.5" r="1.3" fill="#000"/><circle cx="436.8" cy="259" r="1.3" fill="#000"/><circle cx="423.8" cy="262.6" r="1.3" fill="#000"/><circle cx="425.3" cy="263.7" r="1.3" fill="#000"/><circle cx="427.4" cy="263.1" r="1.3" fill="#000"/><circle cx="429.5" cy="262.6" r="1.3" fill="#000"/><circle cx="431.6" cy="263.7" r="1.3" fill="#000"/><circle cx="434.2" cy="263.1" r="1.3" fill="#000"/><circle cx="423.3" cy="265.2" r="1.3" fill="#000"/><circle cx="426.4" cy="265.7" r="1.3" fill="#000"/><circle cx="428.5" cy="266.2" r="1.3" fill="#000"/><circle cx="432.6" cy="265.2" r="1.3" fill="#000"/><circle cx="427.4" cy="267.8" r="1.3" fill="#000"/><circle cx="429.5" cy="268.3" r="1.3" fill="#000"/><circle cx="435.2" cy="267.8" r="1.3" fill="#000"/><circle cx="437.8" cy="268.3" r="1.3" fill="#000"/><circle cx="424.3" cy="269.9" r="1.3" fill="#000"/><circle cx="426.4" cy="270.4" r="1.3" fill="#000"/><circle cx="431.6" cy="269.9" r="1.3" fill="#000"/><circle cx="435.7" cy="270.9" r="1.3" fill="#000"/><circle cx="438.3" cy="270.4" r="1.3" fill="#000"/><circle cx="423.3" cy="272" r="1.3" fill="#000"/><circle cx="424.8" cy="273" r="1.3" fill="#000"/><circle cx="429.5" cy="273.5" r="1.3" fill="#000"/><circle cx="425.9" cy="274.6" r="1.3" fill="#000"/><circle cx="441.4" cy="259.5" r="1.3" fill="#000"/><circle cx="442.5" cy="262.1" r="1.3" fill="#000"/><circle cx="444.6" cy="262.6" r="1.3" fill="#000"/>
<polyline points="49.30,95.50 55.91,93.93 62.52,92.35 69.13,90.76 75.73,89.15 82.34,87.53 88.95,85.90 95.56,84.26 102.17,82.61 108.78,80.95 115.39,79.27 122.00,77.58 128.60,75.88 135.21,74.17 141.82,72.45 148.43,70.71 155.04,68.96 161.65,67.20 168.26,65.43 174.87,63.65 181.47,61.86 188.08,60.05 194.69,58.23 201.30,56.40" fill="none" stroke="#666" stroke-width="0.9" stroke-linejoin="round"/><polyline points="49.30,98.60 54.18,97.70 59.07,96.80 63.95,95.88 68.83,94.95 73.71,94.01 78.60,93.06 83.48,92.10 88.36,91.13 93.24,90.15 98.13,89.15 103.01,88.15 107.89,87.14 112.77,86.12 117.66,85.08 122.54,84.04 127.42,82.98 132.30,81.92 137.19,80.84 142.07,79.75 146.95,78.66 151.83,77.55 156.72,76.43 161.60,75.30" fill="none" stroke="#111" stroke-width="1.3" stroke-linejoin="round"/><polyline points="248.70,55.60 251.10,56.38 253.51,57.17 255.91,57.95 258.32,58.73 260.72,59.51 263.13,60.30 265.53,61.08 267.93,61.86 270.34,62.64 272.74,63.43 275.15,64.21 277.55,64.99 279.96,65.77 282.36,66.56 284.77,67.34 287.17,68.12 289.57,68.90 291.98,69.69 294.38,70.47 296.79,71.25 299.19,72.03 301.60,72.82 304.00,73.60" fill="none" stroke="#666" stroke-width="0.9" stroke-linejoin="round"/><polyline points="233.00,70.60 240.35,72.12 247.70,73.64 255.04,75.16 262.39,76.68 269.74,78.19 277.09,79.70 284.43,81.21 291.78,82.72 299.13,84.22 306.48,85.72 313.83,87.22 321.17,88.71 328.52,90.21 335.87,91.70 343.22,93.18 350.57,94.67 357.91,96.15 365.26,97.63 372.61,99.11 379.96,100.59 387.30,102.06 394.65,103.53 402.00,105.00" fill="none" stroke="#111" stroke-width="1.3" stroke-linejoin="round"/><polyline points="423.20,32.20 429.26,32.33 435.32,32.46 441.38,32.59 447.44,32.72 453.50,32.85 459.57,32.98 465.63,33.11 471.69,33.24 477.75,33.37 483.81,33.50 489.87,33.63 495.93,33.77 501.99,33.90 508.05,34.03 514.11,34.16 520.17,34.29 526.23,34.42 532.30,34.55 538.36,34.68 544.42,34.81 550.48,34.94 556.54,35.07 562.60,35.20" fill="none" stroke="#999" stroke-width="1.0" stroke-linejoin="round"/><polyline points="423.80,47.80 425.53,48.99 427.27,50.17 429.00,51.36 430.74,52.55 432.47,53.73 434.21,54.92 435.94,56.11 437.68,57.30 439.41,58.48 441.15,59.67 442.88,60.86 444.62,62.04 446.35,63.23 448.09,64.42 449.82,65.60 451.56,66.79 453.29,67.98 455.03,69.17 456.76,70.35 458.50,71.54 460.23,72.73 461.97,73.91 463.70,75.10" fill="none" stroke="#111" stroke-width="1.3" stroke-linejoin="round"/><polyline points="62.00,173.30 68.11,174.50 74.23,175.71 80.34,176.91 86.45,178.12 92.57,179.32 98.68,180.53 104.79,181.73 110.90,182.93 117.02,184.14 123.13,185.34 129.24,186.55 135.36,187.75 141.47,188.96 147.58,190.16 153.70,191.37 159.81,192.57 165.92,193.77 172.03,194.98 178.15,196.18 184.26,197.39 190.37,198.59 196.49,199.80 202.60,201.00" fill="none" stroke="#8a8a8a" stroke-width="1.0" stroke-linejoin="round"/><polyline points="60.50,219.80 65.13,218.40 69.76,216.98 74.39,215.52 79.02,214.03 83.65,212.51 88.28,210.97 92.91,209.39 97.54,207.78 102.17,206.14 106.80,204.47 111.43,202.77 116.07,201.04 120.70,199.28 125.33,197.49 129.96,195.67 134.59,193.81 139.22,191.93 143.85,190.02 148.48,188.08 153.11,186.10 157.74,184.10 162.37,182.06 167.00,180.00" fill="none" stroke="#111" stroke-width="1.3" stroke-linejoin="round"/><polyline points="253.60,238.20 255.56,237.10 257.51,235.99 259.47,234.85 261.43,233.69 263.38,232.51 265.34,231.32 267.30,230.10 269.25,228.86 271.21,227.60 273.17,226.33 275.12,225.03 277.08,223.71 279.03,222.37 280.99,221.02 282.95,219.64 284.90,218.24 286.86,216.82 288.82,215.39 290.77,213.93 292.73,212.45 294.69,210.95 296.64,209.44 298.60,207.90" fill="none" stroke="#666" stroke-width="0.9" stroke-linejoin="round"/><polyline points="233.00,222.00 240.33,220.55 247.67,219.06 255.00,217.53 262.34,215.97 269.67,214.38 277.01,212.75 284.34,211.09 291.68,209.39 299.01,207.66 306.35,205.89 313.68,204.08 321.02,202.24 328.35,200.37 335.69,198.46 343.02,196.52 350.36,194.54 357.69,192.52 365.03,190.47 372.36,188.39 379.70,186.27 387.03,184.11 394.37,181.92 401.70,179.70" fill="none" stroke="#111" stroke-width="1.3" stroke-linejoin="round"/><polyline points="425.00,268.94 430.98,268.00 436.97,266.99 442.95,265.90 448.93,264.73 454.91,263.49 460.90,262.18 466.88,260.79 472.86,259.32 478.84,257.78 484.83,256.16 490.81,254.47 496.79,252.70 502.77,250.86 508.76,248.94 514.74,246.94 520.72,244.87 526.70,242.73 532.69,240.50 538.67,238.21 544.65,235.83 550.63,233.39 556.62,230.86 562.60,228.26" fill="none" stroke="#808080" stroke-width="0.95" stroke-linejoin="round"/><polyline points="422.00,265.50 423.83,264.70 425.65,263.89 427.48,263.09 429.30,262.28 431.13,261.48 432.96,260.67 434.78,259.87 436.61,259.07 438.43,258.26 440.26,257.46 442.09,256.65 443.91,255.85 445.74,255.04 447.57,254.24 449.39,253.43 451.22,252.63 453.04,251.83 454.87,251.02 456.70,250.22 458.52,249.41 460.35,248.61 462.17,247.80 464.00,247.00" fill="none" stroke="#111" stroke-width="1.3" stroke-linejoin="round"/>
<text x="129.3" y="8.8" font-size="12" text-anchor="middle" font-weight="normal" >Forest</text><text x="314.8" y="9.3" font-size="12" text-anchor="middle" font-weight="normal" >Grassland</text><text x="494.0" y="10.9" font-size="12" text-anchor="middle" font-weight="normal" >Desert</text><text transform="translate(39.30,20.90) scale(1,1.05)" font-size="11.3" text-anchor="end" font-weight="normal" >0.25</text><text transform="translate(39.30,59.20) scale(1,1.05)" font-size="11.3" text-anchor="end" font-weight="normal" >0.20</text><text transform="translate(39.30,97.40) scale(1,1.05)" font-size="11.3" text-anchor="end" font-weight="normal" >0.15</text><text transform="translate(39.30,135.80) scale(1,1.05)" font-size="11.3" text-anchor="end" font-weight="normal" >0.10</text><text transform="translate(39.30,180.00) scale(1,1.05)" font-size="11.3" text-anchor="end" font-weight="normal" >0.4</text><text transform="translate(39.30,208.90) scale(1,1.05)" font-size="11.3" text-anchor="end" font-weight="normal" >0.3</text><text transform="translate(39.30,237.90) scale(1,1.05)" font-size="11.3" text-anchor="end" font-weight="normal" >0.2</text><text transform="translate(39.30,266.80) scale(1,1.05)" font-size="11.3" text-anchor="end" font-weight="normal" >0.1</text><text transform="translate(43.30,290.60) scale(1,1.04)" font-size="11.3" text-anchor="middle" font-weight="normal" >0</text><text transform="translate(67.70,290.60) scale(1,1.04)" font-size="11.3" text-anchor="middle" font-weight="normal" >20</text><text transform="translate(92.10,290.60) scale(1,1.04)" font-size="11.3" text-anchor="middle" font-weight="normal" >40</text><text transform="translate(116.50,290.60) scale(1,1.04)" font-size="11.3" text-anchor="middle" font-weight="normal" >60</text><text transform="translate(140.90,290.60) scale(1,1.04)" font-size="11.3" text-anchor="middle" font-weight="normal" >80</text><text transform="translate(165.30,290.60) scale(1,1.04)" font-size="11.3" text-anchor="middle" font-weight="normal" >100</text><text transform="translate(189.70,290.60) scale(1,1.04)" font-size="11.3" text-anchor="middle" font-weight="normal" >120</text><text transform="translate(214.10,290.60) scale(1,1.04)" font-size="11.3" text-anchor="middle" font-weight="normal" >140</text><text transform="translate(230.10,290.60) scale(1,1.04)" font-size="11.3" text-anchor="middle" font-weight="normal" >0</text><text transform="translate(257.50,290.60) scale(1,1.04)" font-size="11.3" text-anchor="middle" font-weight="normal" >50</text><text transform="translate(284.90,290.60) scale(1,1.04)" font-size="11.3" text-anchor="middle" font-weight="normal" >100</text><text transform="translate(312.30,290.60) scale(1,1.04)" font-size="11.3" text-anchor="middle" font-weight="normal" >150</text><text transform="translate(339.70,290.60) scale(1,1.04)" font-size="11.3" text-anchor="middle" font-weight="normal" >200</text><text transform="translate(367.10,290.60) scale(1,1.04)" font-size="11.3" text-anchor="middle" font-weight="normal" >250</text><text transform="translate(394.50,290.60) scale(1,1.04)" font-size="11.3" text-anchor="middle" font-weight="normal" >300</text><text transform="translate(417.40,290.60) scale(1,1.04)" font-size="11.3" text-anchor="middle" font-weight="normal" >0</text><text transform="translate(441.50,290.60) scale(1,1.04)" font-size="11.3" text-anchor="middle" font-weight="normal" >20</text><text transform="translate(465.60,290.60) scale(1,1.04)" font-size="11.3" text-anchor="middle" font-weight="normal" >40</text><text transform="translate(489.70,290.60) scale(1,1.04)" font-size="11.3" text-anchor="middle" font-weight="normal" >60</text><text transform="translate(513.80,290.60) scale(1,1.04)" font-size="11.3" text-anchor="middle" font-weight="normal" >80</text><text transform="translate(537.90,290.60) scale(1,1.04)" font-size="11.3" text-anchor="middle" font-weight="normal" >100</text><text transform="translate(562.00,290.60) scale(1,1.04)" font-size="11.3" text-anchor="middle" font-weight="normal" >120</text><text transform="translate(586.10,290.60) scale(1,1.04)" font-size="11.3" text-anchor="middle" font-weight="normal" >140</text><text x="322" y="307.9" font-size="12" text-anchor="middle" font-weight="normal" >LSKD</text><text transform="translate(9.0,75.4) rotate(-90)" font-size="12.5" text-anchor="middle">Albedo</text><text transform="translate(14.1,217.8) rotate(-90)" font-size="12.5" text-anchor="middle">EVI</text><text x="49" y="29.2" font-size="12" text-anchor="start" font-weight="normal" >a</text><text x="229.4" y="29.6" font-size="12" text-anchor="start" font-weight="normal" >b</text><text x="409.8" y="30" font-size="12" text-anchor="start" font-weight="normal" >c</text><text x="47.6" y="159.6" font-size="12" text-anchor="start" font-weight="normal" >d</text><text x="228.6" y="160.2" font-size="12" text-anchor="start" font-weight="normal" >e</text><text x="409.3" y="160.6" font-size="12" text-anchor="start" font-weight="normal" >f</text><circle cx="82.6" cy="28.8" r="1.4" fill="#fff" stroke="#888" stroke-width="0.8"/><circle cx="81.6" cy="44.6" r="1.35" fill="#000"/><text x="101.1" y="32.8" font-size="11.7" text-anchor="start" font-weight="normal" >IM</text><text x="100.3" y="47.8" font-size="11.7" text-anchor="start" font-weight="normal" >MG</text><text x="171.1" y="97.4" font-size="11.3" font-weight="normal"><tspan font-style="italic">r</tspan><tspan font-size="8.81" dy="-4.0" dx="-0.4">2</tspan><tspan dy="4.0" dx="-1.3">=0.60</tspan></text><text x="171.1" y="110.2" font-size="11.3" font-weight="normal"><tspan font-style="italic">k</tspan> =<tspan>0.0025</tspan></text><text x="84.7" y="126.2" font-size="11.3" font-weight="bold"><tspan font-style="italic">r</tspan><tspan font-size="8.81" dy="-4.0" dx="-0.4">2</tspan><tspan dy="4.0" dx="-1.3">=0.15</tspan></text><text x="84.7" y="139.1" font-size="11.3" font-weight="bold"><tspan font-style="italic">k</tspan> =<tspan>0.0023</tspan></text><text x="298" y="46.1" font-size="11.3" font-weight="normal"><tspan font-style="italic">r</tspan><tspan font-size="8.81" dy="-4.0" dx="-0.4">2</tspan><tspan dy="4.0" dx="-1.3">=0.08</tspan></text><text x="298" y="58.4" font-size="11.3" font-weight="normal"><tspan font-style="italic">k</tspan> =<tspan>0.0014</tspan></text><text x="246" y="124.15" font-size="11.3" font-weight="bold"><tspan font-style="italic">r</tspan><tspan font-size="8.81" dy="-4.0" dx="-0.4">2</tspan><tspan dy="4.0" dx="-1.3">=0.12</tspan></text><text x="246" y="136.65" font-size="11.3" font-weight="bold"><tspan font-style="italic">k</tspan> =<tspan>0.0009</tspan></text><text x="524.1" y="53.8" font-size="11.3" font-weight="normal"><tspan font-style="italic">r</tspan><tspan font-size="8.81" dy="-4.0" dx="-0.4">2</tspan><tspan dy="4.0" dx="-1.3">=0.01</tspan></text><text x="524.1" y="66.65" font-size="11.3" font-weight="normal"><tspan font-style="italic">k</tspan> =<tspan>0.0002</tspan></text><text x="427.7" y="110.2" font-size="11.3" font-weight="bold"><tspan font-style="italic">r</tspan><tspan font-size="8.81" dy="-4.0" dx="-0.4">2</tspan><tspan dy="4.0" dx="-1.3">=0.14</tspan></text><text x="427.7" y="123.0" font-size="11.3" font-weight="bold"><tspan font-style="italic">k</tspan> =<tspan>0.0057</tspan></text><text x="157.4" y="213.4" font-size="11.3" font-weight="normal"><tspan font-style="italic">r</tspan><tspan font-size="8.81" dy="-4.0" dx="-0.4">2</tspan><tspan dy="4.0" dx="-1.3">=0.38</tspan></text><text x="157.4" y="226.3" font-size="11.3" font-weight="normal"><tspan font-style="italic">k</tspan> =<tspan>0.0022</tspan></text><text x="95.8" y="242.70000000000002" font-size="11.3" font-weight="bold"><tspan font-style="italic">r</tspan><tspan font-size="8.81" dy="-4.0" dx="-0.4">2</tspan><tspan dy="4.0" dx="-1.3">=0.06</tspan></text><text x="95.8" y="255.6" font-size="11.3" font-weight="bold"><tspan font-style="italic">k</tspan> =<tspan>0.0049</tspan></text><text x="346.6" y="165.20000000000002" font-size="11.3" font-weight="bold"><tspan font-style="italic">r</tspan><tspan font-size="8.81" dy="-4.0" dx="-0.4">2</tspan><tspan dy="4.0" dx="-1.3">=0.12</tspan></text><text x="346.6" y="178.0" font-size="11.3" font-weight="bold"><tspan font-style="italic">k</tspan> =<tspan>0.0015</tspan></text><text x="299.7" y="238.8" font-size="11.3" font-weight="normal"><tspan font-style="italic">r</tspan><tspan font-size="8.81" dy="-4.0" dx="-0.4">2</tspan><tspan dy="4.0" dx="-1.3">=0.12</tspan></text><text x="299.7" y="251.3" font-size="11.3" font-weight="normal"><tspan font-style="italic">k</tspan> =<tspan>0.0054</tspan></text><text x="414.7" y="221.3" font-size="11.3" font-weight="bold"><tspan font-style="italic">r</tspan><tspan font-size="8.81" dy="-4.0" dx="-0.4">2</tspan><tspan dy="4.0" dx="-1.3">=0.28</tspan></text><text x="414.7" y="234.4" font-size="11.3" font-weight="bold"><tspan font-style="italic">k</tspan> =<tspan>0.0170</tspan></text><text x="526.25" y="207.4" font-size="11.3" font-weight="normal"><tspan font-style="italic">r</tspan><tspan font-size="8.81" dy="-4.0" dx="-0.4">2</tspan><tspan dy="4.0" dx="-1.3">=0.64</tspan></text><text x="526.25" y="220.20000000000002" font-size="11.3" font-weight="normal"><tspan font-style="italic">k</tspan> =<tspan>0.0091</tspan></text>
</svg>
</body></html>
